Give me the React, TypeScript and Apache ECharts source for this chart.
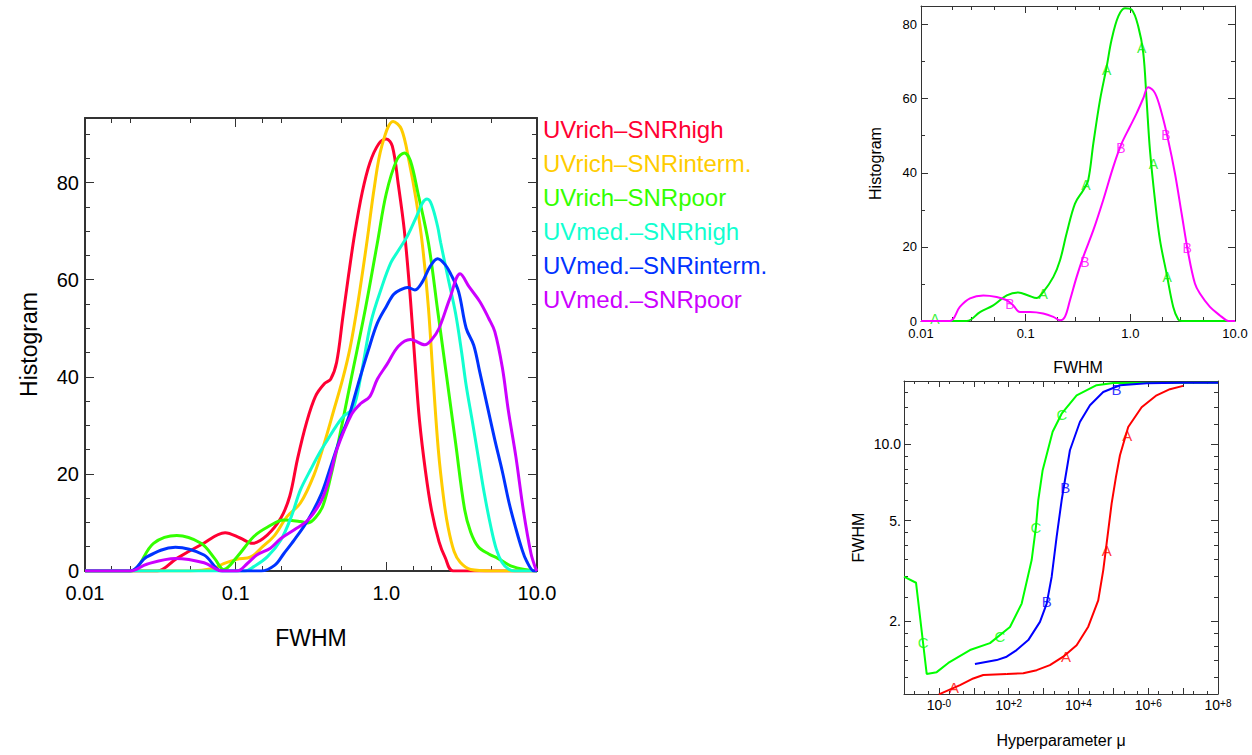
import React, { useEffect, useRef } from 'react';
import * as echarts from 'echarts';

type Pt = [number, number];

const FONT = "'Liberation Sans', Arial, Helvetica, sans-serif";
const AX = '#333333';

// ---------------- main panel: histograms of FWHM ----------------
const HIST_NAMES = ['UVrich–SNRhigh', 'UVrich–SNRinterm.', 'UVrich–SNRpoor', 'UVmed.–SNRhigh', 'UVmed.–SNRinterm.', 'UVmed.–SNRpoor'];
const HIST_COLORS = ['#ff0033', '#ffcc00', '#33ff00', '#11ffd0', '#0033ff', '#cc00ff'];

const UVRICH_SNRHIGH: Pt[] = [[0.01, 0], [0.02, 0], [0.0302, 0], [0.0407, 2.6], [0.0589, 5.4], [0.0851, 7.9], [0.107, 6.8], [0.129, 5.7], [0.162, 7.4], [0.1995, 10.9], [0.229, 15.5], [0.257, 23], [0.295, 30.5], [0.339, 36], [0.389, 38.6], [0.427, 39.5], [0.468, 43], [0.513, 52], [0.562, 61], [0.617, 69.5], [0.692, 78], [0.776, 84], [0.891, 88], [1.0, 89], [1.096, 87.5], [1.202, 79.5], [1.318, 70], [1.445, 56], [1.549, 43], [1.66, 31], [1.82, 20.5], [1.995, 12.5], [2.239, 6], [2.455, 2.8], [2.786, 0], [10, 0]];
const UVRICH_SNRINTERM: Pt[] = [[0.01, 0], [0.05, 0], [0.0708, 0.5], [0.0832, 1.5], [0.102, 2.4], [0.126, 2.9], [0.151, 5.0], [0.182, 7.4], [0.219, 11.2], [0.269, 14], [0.331, 19.8], [0.389, 26.5], [0.447, 33], [0.513, 39.5], [0.575, 46], [0.646, 55], [0.741, 67.5], [0.832, 79], [0.933, 87.5], [1.109, 92.6], [1.259, 91], [1.413, 84.5], [1.585, 76], [1.738, 67], [1.905, 54], [2.042, 40], [2.213, 25], [2.399, 15], [2.57, 9], [2.818, 4], [3.09, 1.8], [3.631, 0.3], [5.012, 0], [10, 0]];
const UVRICH_SNRPOOR: Pt[] = [[0.01, 0], [0.02, 0], [0.0285, 5.7], [0.0407, 7.3], [0.0589, 5.7], [0.0724, 2.6], [0.0832, 0.3], [0.102, 2.9], [0.132, 7.1], [0.162, 9.0], [0.209, 10.5], [0.269, 10.2], [0.302, 9.9], [0.339, 11], [0.38, 13.5], [0.427, 19.4], [0.479, 26.3], [0.589, 40.1], [0.724, 53.8], [0.871, 67.5], [1.0, 77.8], [1.175, 84.7], [1.318, 86.1], [1.445, 84.5], [1.622, 77.8], [1.905, 67.5], [2.188, 53.8], [2.512, 40.1], [2.884, 26.3], [3.311, 12.6], [3.631, 8], [4.074, 5.0], [4.786, 3.5], [5.495, 2.6], [6.761, 1.0], [8.71, 0.2], [10, 0]];
const UVMED_SNRHIGH: Pt[] = [[0.01, 0], [0.115, 0], [0.132, 0.9], [0.162, 2.9], [0.1995, 6.4], [0.234, 11.2], [0.269, 16.7], [0.316, 21], [0.363, 24.5], [0.407, 27], [0.468, 30], [0.525, 32], [0.603, 33.5], [0.676, 40], [0.794, 51.5], [0.933, 58.5], [1.072, 63.5], [1.202, 66], [1.38, 69], [1.585, 73], [1.738, 75.8], [1.862, 76.6], [1.995, 75.5], [2.188, 71], [2.291, 67.7], [2.57, 60.3], [2.884, 53], [3.162, 45], [3.388, 38.2], [3.715, 31], [4.074, 23.5], [4.467, 16], [4.955, 8.9], [5.37, 4.5], [5.848, 1.8], [6.457, 0.4], [7.079, 0], [10, 0]];
const UVMED_SNRINTERM: Pt[] = [[0.01, 0], [0.02, 0], [0.0257, 2.9], [0.0398, 4.9], [0.0617, 3.3], [0.0813, 0], [0.148, 0], [0.182, 1.2], [0.209, 3.6], [0.245, 6.4], [0.302, 10.5], [0.372, 16], [0.427, 21.5], [0.49, 27], [0.56, 31.5], [0.65, 38.5], [0.76, 45.5], [0.87, 51], [1.0, 54.5], [1.12, 57], [1.259, 58], [1.38, 58.4], [1.549, 57.9], [1.738, 59.6], [1.95, 62.7], [2.188, 64.3], [2.455, 63.1], [2.692, 61], [3.02, 57.5], [3.388, 50], [3.802, 46.5], [4.169, 41], [4.677, 34], [5.248, 27], [5.888, 20.5], [6.531, 14], [7.244, 8.7], [7.943, 4.5], [8.511, 2.1], [9.55, 0], [10, 0]];
const UVMED_SNRPOOR: Pt[] = [[0.01, 0], [0.02, 0], [0.0257, 1.4], [0.0398, 2.6], [0.0617, 1.7], [0.0813, 0], [0.102, 0], [0.12, 1.6], [0.138, 3.3], [0.17, 4.7], [0.1995, 6.7], [0.245, 8.5], [0.302, 10.5], [0.372, 14.6], [0.427, 20.1], [0.468, 24.9], [0.589, 32.3], [0.676, 34.5], [0.776, 35.9], [0.871, 39.5], [1.012, 42.6], [1.202, 46.3], [1.445, 47.7], [1.799, 46.6], [1.995, 47.6], [2.239, 50], [2.63, 56], [3.09, 61.2], [3.548, 58.5], [4.169, 55.5], [4.786, 52], [5.248, 49.3], [5.888, 41.9], [6.457, 33], [7.244, 23.5], [8.128, 12.4], [9.12, 3.6], [9.772, 0.6], [10, 0]];
const HIST_SERIES = [UVRICH_SNRHIGH, UVRICH_SNRINTERM, UVRICH_SNRPOOR, UVMED_SNRHIGH, UVMED_SNRINTERM, UVMED_SNRPOOR];

// ---------------- top-right panel ----------------
const FIT_A: Pt[] = [[0.01, 0], [0.0274, 0], [0.0366, 2.4], [0.049, 4.2], [0.066, 6.9], [0.085, 7.7], [0.106, 6.9], [0.127, 6.2], [0.147, 7.8], [0.184, 11.9], [0.213, 16.4], [0.246, 23.6], [0.296, 31.7], [0.355, 35.3], [0.396, 38], [0.443, 47.9], [0.513, 59.6], [0.594, 68.6], [0.662, 75.9], [0.767, 82.2], [0.887, 84.4], [1.03, 84], [1.19, 79.5], [1.33, 72.3], [1.43, 59.6], [1.54, 46.1], [1.72, 32.6], [1.92, 21.8], [2.22, 12.8], [2.57, 3.8], [2.87, 0.4], [3.1, 0], [10, 0]];
const FIT_B: Pt[] = [[0.01, 0], [0.0189, 0], [0.0235, 3.8], [0.0294, 6.1], [0.0394, 6.9], [0.0528, 6.5], [0.066, 5.6], [0.0762, 4.2], [0.088, 2.4], [0.11, 2.4], [0.147, 2.0], [0.184, 1.1], [0.213, 0.2], [0.237, 1.1], [0.265, 5.6], [0.307, 11.9], [0.355, 17.3], [0.443, 24.5], [0.55, 32.6], [0.687, 41.6], [0.826, 47.9], [0.99, 52.4], [1.15, 56.1], [1.33, 60.1], [1.48, 63.1], [1.72, 61.5], [1.99, 56.1], [2.3, 48.8], [2.67, 39.8], [3.09, 29], [3.58, 18.2], [4.14, 10.1], [4.62, 7.4], [5.76, 3.8], [7.18, 1.5], [8.3, 0.2], [9, 0], [10, 0]];
const FIT_A_MARKS: Pt[] = [[0.0136, 0.6], [0.147, 7.4], [0.377, 36.7], [0.594, 67.8], [1.28, 73.6], [1.66, 42.5], [2.25, 11.9]];
const FIT_B_MARKS: Pt[] = [[0.0708, 4.7], [0.368, 15.8], [0.813, 46.6], [2.19, 50.2], [3.5, 19.6]];

// ---------------- bottom-right panel: FWHM vs hyperparameter mu ----------------
const CURVE_C: Pt[] = [[0.1, 3.0], [0.221, 2.84], [0.447, 1.24], [0.865, 1.26], [1.86, 1.37], [7.78, 1.54], [29.1, 1.64], [109, 1.9], [236, 2.35], [456, 3.49], [605, 4.72], [705, 6.01], [942, 7.9], [1820, 11.2], [3300, 13.2], [8870, 15.6], [33100, 17.1], [99300, 17.45], [1e8, 17.5]];
const CURVE_B: Pt[] = [[10.8, 1.356], [45.3, 1.406], [87.7, 1.45], [169, 1.54], [365, 1.686], [789, 1.99], [1230, 2.35], [1710, 3.0], [2370, 4.31], [3300, 6.01], [4100, 7.21], [5700, 9.47], [11000, 12.24], [21400, 14.25], [51300, 16.08], [155000, 17.09], [900000, 17.4], [8.1e6, 17.5], [1e8, 17.5]];
const CURVE_A: Pt[] = [[1.0, 1.03], [4.03, 1.12], [9.68, 1.19], [18.7, 1.228], [87.7, 1.239], [262, 1.247], [634, 1.283], [1520, 1.343], [3660, 1.45], [8870, 1.61], [19100, 1.905], [36900, 2.42], [51300, 3.18], [64300, 4.06], [89300, 5.83], [119000, 7.43], [155000, 9.05], [267000, 11.7], [647000, 14.0], [1.74e6, 15.6], [4.19e6, 16.5], [1e7, 17.0]];
const MARK_C: Pt[] = [[0.357, 1.65], [56.4, 1.74], [605, 4.7], [3370, 13.1]];
const MARK_B: Pt[] = [[1230, 2.4], [4190, 6.78], [124000, 16.5]];
const MARK_A: Pt[] = [[2.71, 1.097], [4390, 1.457], [64300, 3.82], [250000, 10.85]];

// ---------------- ticks ----------------
const FWHM_TICKS = [0.01, 0.1, 1, 10];
const FWHM_LABELS = ['0.01', '0.1', '1.0', '10.0'];
const FWHM_MINOR_MAIN = [0.015, 0.02, 0.05, 0.15, 0.2, 0.5, 1.5, 2, 5];
const FWHM_MINOR_SMALL = [0.02, 0.03, 0.05, 0.2, 0.3, 0.5, 2, 3, 5];
const HIST_TICKS = [0, 20, 40, 60, 80];
const HIST_MINOR_MAIN = [5, 10, 15, 25, 30, 35, 45, 50, 55, 65, 70, 75, 85, 90];
const HIST_MINOR_SMALL = [10, 30, 50, 70];
const MU_TICKS = [0.1, 1, 10, 1e2, 1e3, 1e4, 1e5, 1e6, 1e7, 1e8];
const MU_LABEL_TICKS = [1, 1e2, 1e4, 1e6, 1e8];
const MU_LABEL_EXP = ['-0', '+2', '+4', '+6', '+8'];
const MU_MINOR = [0.2, 0.5, 2, 5, 20, 50, 200, 500, 2e3, 5e3, 2e4, 5e4, 2e5, 5e5, 2e6, 5e6, 2e7, 5e7];
const FW_TICKS = [2, 5, 10];
const FW_LABELS = ['2.', '5.', '10.0'];
const FW_MINOR = [1.2, 1.4, 1.6, 1.8, 2.5, 3, 3.5, 4, 4.5, 6, 7, 8, 9, 12, 14, 16];

function pick(v: number, ticks: number[], labels: string[]) {
  for (let i = 0; i < ticks.length; i++) {
    if (Math.abs(Math.log10(v / ticks[i])) < 0.01) return labels[i];
  }
  return '';
}

function boxAxes(kind: 'x' | 'y', gridIndex: number, type: string, min: number, max: number,
  majors: number[], minors: number[], label: any, name: any, lineWidth: number, majorLen: number, minorLen: number) {
  const positions = kind === 'x' ? ['bottom', 'top'] : ['left', 'right'];
  const res: any[] = [];
  positions.forEach((position, k) => {
    res.push({
      type, gridIndex, position, min, max,
      ...(type === 'log' ? { logBase: 10 } : {}),
      axisLine: { show: true, onZero: false, lineStyle: { color: AX, width: lineWidth } },
      axisTick: { show: true, inside: true, length: majorLen, customValues: majors, lineStyle: { color: AX, width: 1 } },
      axisLabel: k === 0 ? label : { show: false },
      splitLine: { show: false },
      ...(k === 0 ? name : {}),
    });
    res.push({
      type, gridIndex, position, min, max,
      ...(type === 'log' ? { logBase: 10 } : {}),
      axisLine: { show: false, onZero: false },
      axisTick: { show: true, inside: true, length: minorLen, customValues: minors, lineStyle: { color: AX, width: 1 } },
      axisLabel: { show: false },
      splitLine: { show: false },
    });
  });
  return res;
}

function nameCfg(name: string, gap: number, size: number) {
  return { name, nameLocation: 'middle', nameGap: gap, nameTextStyle: { fontSize: size, color: '#000', fontFamily: FONT } };
}

function lbl(extra: any) {
  return { show: true, color: '#000', fontFamily: FONT, ...extra };
}

function buildOption() {
  const xAxis = [
    ...boxAxes('x', 0, 'log', 0.01, 10, FWHM_TICKS, FWHM_MINOR_MAIN,
      lbl({ customValues: FWHM_TICKS, formatter: (v: number) => pick(v, FWHM_TICKS, FWHM_LABELS), fontSize: 20, margin: 12 }),
      nameCfg('FWHM', 55, 23), 2, 9, 5),
    ...boxAxes('x', 1, 'log', 0.01, 10, FWHM_TICKS, FWHM_MINOR_SMALL,
      lbl({ customValues: FWHM_TICKS, formatter: (v: number) => pick(v, FWHM_TICKS, FWHM_LABELS), fontSize: 13, margin: 6 }),
      nameCfg('FWHM', 38, 16), 1, 7, 4),
    ...boxAxes('x', 2, 'log', 0.1, 1e8, MU_TICKS, MU_MINOR,
      lbl({
        customValues: MU_LABEL_TICKS,
        formatter: (v: number) => '10{s|' + pick(v, MU_LABEL_TICKS, MU_LABEL_EXP) + '}',
        fontSize: 14, margin: 4,
        rich: { s: { fontSize: 10, verticalAlign: 'top', color: '#000', fontFamily: FONT } },
      }),
      nameCfg('Hyperparameter μ', 38, 16), 1, 6, 3),
  ];
  const yAxis = [
    ...boxAxes('y', 0, 'value', 0, 93.3, HIST_TICKS, HIST_MINOR_MAIN,
      lbl({ customValues: HIST_TICKS, formatter: (v: number) => String(Math.round(v)), fontSize: 20, margin: 6 }),
      nameCfg('Histogram', 45, 23), 2, 9, 5),
    ...boxAxes('y', 1, 'value', 0, 85, HIST_TICKS, HIST_MINOR_SMALL,
      lbl({ customValues: HIST_TICKS, formatter: (v: number) => String(Math.round(v)), fontSize: 13, margin: 4 }),
      nameCfg('Histogram', 38, 16), 1, 7, 4),
    ...boxAxes('y', 2, 'log', 1.033, 17.77, FW_TICKS, FW_MINOR,
      lbl({ customValues: FW_TICKS, formatter: (v: number) => pick(v, FW_TICKS, FW_LABELS), fontSize: 14, margin: 3 }),
      nameCfg('FWHM', 38, 16), 1, 7, 4),
  ];

  const line = (name: string, data: Pt[], color: string, axis: number, width: number, smooth: number | boolean) => ({
    type: 'line', name, data, xAxisIndex: axis, yAxisIndex: axis, smooth,
    symbol: 'none', silent: true, lineStyle: { color, width }, itemStyle: { color },
  });
  const marks = (name: string, data: Pt[], color: string, axis: number, letter: string, size: number) => ({
    type: 'scatter', name, data, xAxisIndex: axis, yAxisIndex: axis, symbol: 'circle', symbolSize: 1, silent: true,
    itemStyle: { color: 'rgba(0,0,0,0)' },
    label: { show: true, position: 'inside', formatter: letter, color, fontSize: size, fontFamily: FONT },
  });

  const series: any[] = [
    ...HIST_SERIES.map((d, i) => line(HIST_NAMES[i], d, HIST_COLORS[i], 0, 3, 0.35)),
    line('fitA', FIT_A, '#00ee00', 4, 2, 0.35),
    line('fitB', FIT_B, '#ff00ff', 4, 2, 0.35),
    marks('fitAm', FIT_A_MARKS, '#00ee00', 4, 'A', 14),
    marks('fitBm', FIT_B_MARKS, '#ff00ff', 4, 'B', 14),
    line('curveC', CURVE_C, '#00ff00', 8, 2, false),
    line('curveB', CURVE_B, '#0000ff', 8, 2, false),
    line('curveA', CURVE_A, '#ff0000', 8, 2, false),
    marks('markC', MARK_C, '#00ff00', 8, 'C', 15),
    marks('markB', MARK_B, '#0000ff', 8, 'B', 15),
    marks('markA', MARK_A, '#ff0000', 8, 'A', 15),
  ];

  return {
    animation: false,
    backgroundColor: '#ffffff',
    grid: [
      { left: 85, top: 118, width: 452, height: 453 },
      { left: 921, top: 6, width: 314, height: 315 },
      { left: 904, top: 381, width: 314, height: 313 },
    ],
    legend: {
      orient: 'vertical', left: 533, top: 112, itemWidth: 0, itemHeight: 0, itemGap: 10,
      selectedMode: false, icon: 'rect',
      textStyle: { fontSize: 24, lineHeight: 24, fontFamily: FONT },
      data: HIST_NAMES.map((n, i) => ({ name: n, textStyle: { color: HIST_COLORS[i] } })),
    },
    xAxis, yAxis, series,
  };
}

export default function App() {
  const ref = useRef<HTMLDivElement>(null);
  useEffect(() => {
    if (!ref.current) return;
    const chart = echarts.init(ref.current, undefined, { renderer: 'svg' });
    chart.setOption(buildOption() as any);
    return () => chart.dispose();
  }, []);
  return <div ref={ref} style={{ position: 'fixed', left: 0, top: 0, width: 1252, height: 755, background: '#fff' }} />;
}
